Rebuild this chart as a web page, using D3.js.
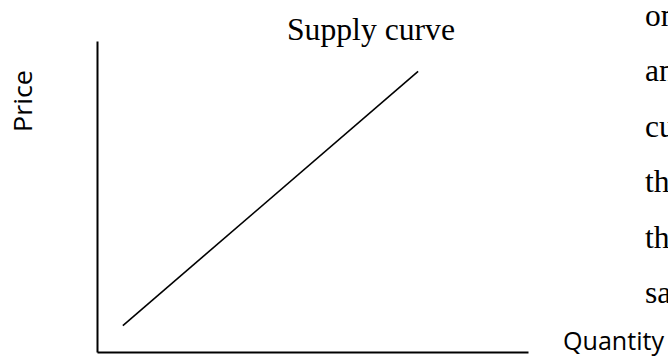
<!DOCTYPE html>
<html>
<head>
<meta charset="utf-8">
<script src="https://cdn.jsdelivr.net/npm/d3@7"></script>
<style>
  body { margin: 0; background: #fff; }
  svg { display: block; }
</style>
</head>
<body>
<div id="chart"></div>
<script>
// Supply curve: two end points of a straight line, axes are 0..100 with no ticks
const quantity = [6, 74.5]
const price = [8.5, 90.2]

const title = "Supply curve"
const xLabel = "Quantity"
const yLabel = "Price"
// cut-off words of the page text sitting to the right of the figure
const sideText = ["on", "an", "cu", "th", "th", "sa"]

const width = 668, height = 356
const margin = {top: 41, right: 140, bottom: 4, left: 97}

const svg = d3.select('#chart').append('svg')
  .attr('width', width)
  .attr('height', height)

const x = d3.scaleLinear().domain([0, 100]).range([margin.left, width - margin.right])
const y = d3.scaleLinear().domain([0, 100]).range([height - margin.bottom, margin.top])

// axes without ticks
svg.append('g')
  .attr('transform', `translate(0,${y(0)})`)
  .call(d3.axisBottom(x).ticks(0).tickSizeOuter(0))
  .select('.domain')
  .attr('stroke', '#000')
  .attr('stroke-width', 2)

svg.append('g')
  .attr('transform', `translate(${x(0)},0)`)
  .call(d3.axisLeft(y).ticks(0).tickSizeOuter(0))
  .select('.domain')
  .attr('stroke', '#000')
  .attr('stroke-width', 2)

const line = d3.line()
  .x(d => x(d[0]))
  .y(d => y(d[1]))

svg.append('path')
  .datum(d3.zip(quantity, price))
  .attr('d', line)
  .attr('fill', 'none')
  .attr('stroke', '#000')
  .attr('stroke-width', 1.6)

const serif = '"Liberation Serif", "Times New Roman", serif'
const sans = '"Open Sans", sans-serif'

svg.append('text')
  .attr('x', 287)
  .attr('y', 40)
  .attr('font-family', serif)
  .attr('font-size', 31.5)
  .attr('textLength', 168)
  .attr('lengthAdjust', 'spacingAndGlyphs')
  .text(title)

svg.append('text')
  .attr('transform', 'translate(32,132) rotate(-90)')
  .attr('font-family', sans)
  .attr('font-size', 25)
  .attr('textLength', 62)
  .attr('lengthAdjust', 'spacingAndGlyphs')
  .text(yLabel)

svg.append('text')
  .attr('x', 563)
  .attr('y', 350)
  .attr('font-family', sans)
  .attr('font-size', 26)
  .attr('textLength', 101)
  .attr('lengthAdjust', 'spacingAndGlyphs')
  .text(xLabel)

svg.append('g')
  .selectAll('text')
  .data(sideText)
  .join('text')
  .attr('x', 645)
  .attr('y', (d, i) => 26 + i * 55.4)
  .attr('font-family', serif)
  .attr('font-size', 31.5)
  .text(d => d)
</script>
</body>
</html>
